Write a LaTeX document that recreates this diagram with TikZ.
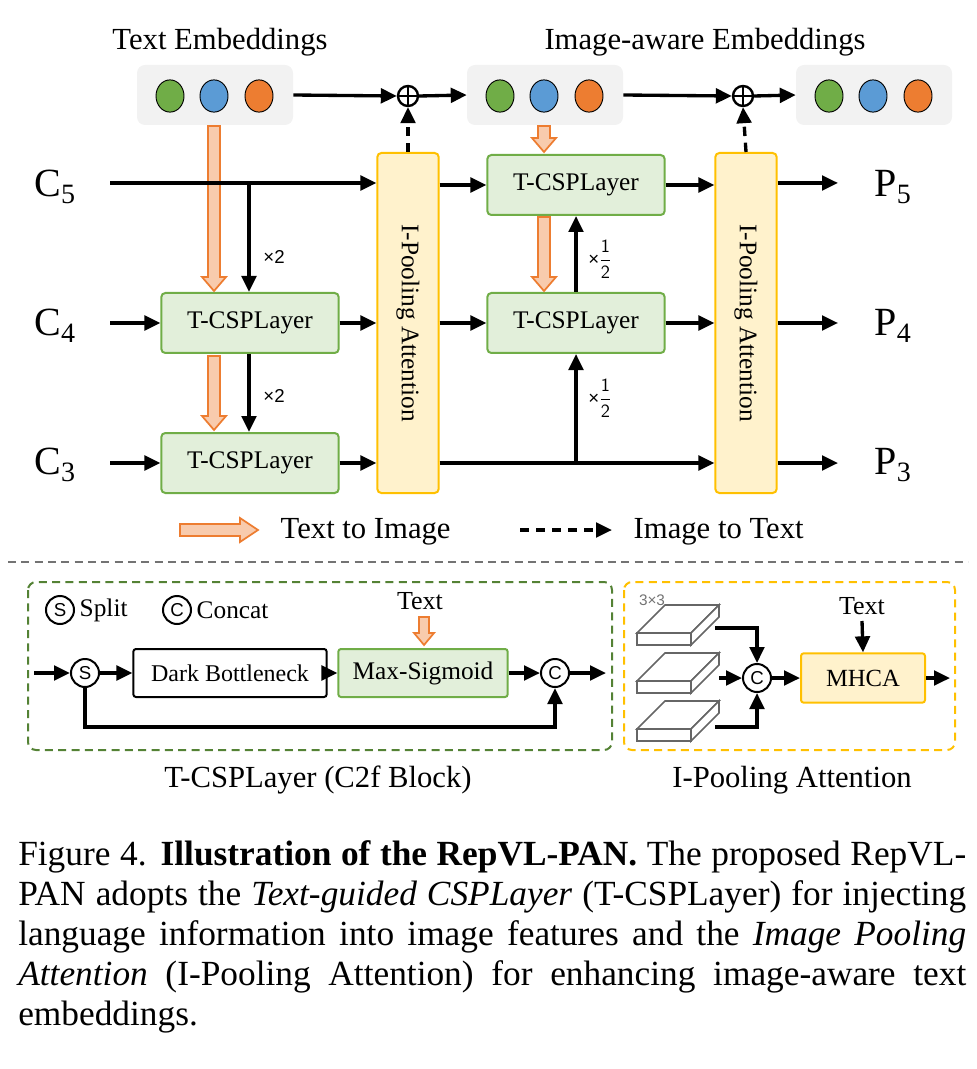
\documentclass[tikz,border=0pt]{standalone}
\usepackage{fontspec}
\setmainfont{Liberation Serif}
\newfontfamily\sansf{Liberation Sans}
\usetikzlibrary{arrows.meta}
\definecolor{embg}{HTML}{F2F2F2}
\definecolor{cgreen}{HTML}{70AD47}
\definecolor{cblue}{HTML}{5B9BD5}
\definecolor{corange}{HTML}{ED7D31}
\definecolor{tfill}{HTML}{E2EFDA}
\definecolor{tdraw}{HTML}{70AD47}
\definecolor{pfill}{HTML}{FFF2CC}
\definecolor{pdraw}{HTML}{FFC000}
\definecolor{afill}{HTML}{F8CBAD}
\definecolor{gdash}{HTML}{548235}
\newcommand\myvarr[4]{\draw[oarrst] ({#1-#4},#2) -- ({#1+#4},#2) -- ({#1+#4},{#3-2*#4-2}) -- ({#1+2*#4},{#3-2*#4-2}) -- (#1,#3) -- ({#1-2*#4},{#3-2*#4-2}) -- ({#1-#4},{#3-2*#4-2}) -- cycle;}
\newcommand\myhalf{{\sansf×}$\displaystyle\frac{\mathsf{1}}{\mathsf{2}}$}
\begin{document}
\begin{tikzpicture}[x=0.75pt,y=-0.75pt,
  ar/.style={line width=2.5pt,-{Triangle[length=12pt,width=11pt]}},
  dar/.style={ar,dash pattern=on 7pt off 5pt},
  emb/.style={fill=embg,draw=none,rounded corners=6pt,minimum width=117pt,minimum height=45pt},
  dot/.style={circle,draw=black,line width=0.7pt,minimum width=21pt,minimum height=0pt,inner sep=0pt,yscale=1.15},
  tcsp/.style={draw=tdraw,fill=tfill,line width=1.5pt,rounded corners=3pt,minimum width=133pt,minimum height=45pt,font=\fontsize{19}{19}\selectfont},
  ipool/.style={draw=pdraw,fill=pfill,line width=1.5pt,rounded corners=3pt,minimum width=46pt,minimum height=255pt},
  oarrst/.style={draw=corange,fill=afill,line width=1.3pt,line join=miter},
  oplus/.style={circle,draw,line width=1.8pt,minimum size=15pt,inner sep=0pt},
  lbl/.style={font=\fontsize{23}{23}\selectfont},
  big/.style={font=\fontsize{30}{30}\selectfont},
  mul/.style={font=\sansf\fontsize{14}{14}\selectfont},
  sc/.style={circle,draw,line width=1.5pt,minimum size=21pt,inner sep=0pt,font=\sansf\fontsize{14}{14}\selectfont},
  slab/.style={draw=black!60,line width=1.3pt,fill=white}]
\useasboundingbox (0,0) rectangle (976,1069);
% embeddings
\node[lbl] at (220,42) {Text Embeddings};
\node[lbl] at (705,42) {Image-aware Embeddings};
\node[emb] (e1) at (215,95) {};
\node[emb] (e2) at (545,95) {};
\node[emb] (e3) at (874,95) {};
\foreach \e/\x in {1/170,2/500,3/829}{
  \node[dot,fill=cgreen] (g\e) at (\x,96) {};
  \node[dot,fill=cblue] (b\e) at (\x+44,96) {};
  \node[dot,fill=corange] (o\e) at (\x+89,96) {};}
\node[oplus] (p1) at (408,96) {};
\node[oplus] (p2) at (743,96) {};
\draw[line width=1.8pt] (p1.north)--(p1.south) (p1.west)--(p1.east);
\draw[line width=1.8pt] (p2.north)--(p2.south) (p2.west)--(p2.east);
\draw[ar] (e1.east) -- (p1.west);
\draw[ar] (p1.east) -- (e2.west);
\draw[ar] (e2.east) -- (p2.west);
\draw[ar] (p2.east) -- (e3.west);
% labels
\node[big] (c5) at (55,187) {C\textsubscript{5}};
\node[big] (c4) at (55,326) {C\textsubscript{4}};
\node[big] (c3) at (55,465) {C\textsubscript{3}};
\node[big] (q5) at (893,187) {P\textsubscript{5}};
\node[big] (q4) at (893,326) {P\textsubscript{4}};
\node[big] (q3) at (893,465) {P\textsubscript{3}};
% blocks
\node[ipool] (ip1) at (408,323) {};
\node[ipool] (ip2) at (746,323) {};
\node[rotate=-90,font=\fontsize{19}{19}\selectfont] at (408,323) {I-Pooling Attention};
\node[rotate=-90,font=\fontsize{19}{19}\selectfont] at (746,323) {I-Pooling Attention};
\node[tcsp] (t4) at (250,323) {T-CSPLayer};
\node[tcsp] (t3) at (250,463) {T-CSPLayer};
\node[tcsp] (m5) at (576,185) {T-CSPLayer};
\node[tcsp] (m4) at (576,323) {T-CSPLayer};
% orange arrows
\myvarr{214}{126}{291}{6}
\myvarr{214}{356}{430}{6}
\myvarr{544}{126}{152}{6}
\myvarr{544}{217}{291}{6}
% connectors
\coordinate (c5s) at (110,183);
\coordinate (c4s) at (110,323);
\coordinate (c3s) at (110,463);
\draw[ar] (c5s) -- (ip1.west |- c5s);
\draw[ar] (249,183) -- (t4.north -| 249,0);
\node[mul] at (274,257) {×2};
\draw[ar] (c4s) -- (t4.west);
\draw[ar] (t4.east) -- (ip1.west |- t4.east);
\draw[ar] (t4.south -| 249,0) -- (t3.north -| 249,0);
\node[mul] at (274,396) {×2};
\draw[ar] (c3s) -- (t3.west);
\draw[ar] (t3.east) -- (ip1.west |- t3.east);
\draw[ar] (ip1.east |- m5.west) -- (m5.west);
\draw[ar] (ip1.east |- m4.west) -- (m4.west);
\draw[ar] (ip1.east |- 0,463) -- (ip2.west |- 0,463);
\draw[ar] (576,463) -- (m4.south);
\draw[ar] (m4.north) -- (m5.south);
\node[mul,anchor=west,inner sep=0pt] at (588,259) {\myhalf};
\node[mul,anchor=west,inner sep=0pt] at (588,398) {\myhalf};
\draw[ar] (m5.east) -- (ip2.west |- m5.east);
\draw[ar] (m4.east) -- (ip2.west |- m4.east);
\coordinate (r5) at (838,183);
\coordinate (r4) at (838,323);
\coordinate (r3) at (838,463);
\draw[ar] (ip2.east |- r5) -- (r5);
\draw[ar] (ip2.east |- r4) -- (r4);
\draw[ar] (ip2.east |- r3) -- (r3);
\draw[dar] (ip1.north) -- (p1.south);
\draw[dar] (ip2.north) -- (p2.south);
% legend
\draw[oarrst] (180,524) -- (240,524) -- (240,518) -- (258,530) -- (240,542) -- (240,536) -- (180,536) -- cycle;
\node[lbl,anchor=west] at (276,532) {Text to Image};
\coordinate (lda) at (520,530); \coordinate (ldb) at (612,530);
\draw[dar] (lda) -- (ldb);
\node[lbl,anchor=west] at (629,532) {Image to Text};
\draw[black!55,line width=1.2pt,dash pattern=on 6pt off 4pt] (8,562) -- (968,562);
% bottom left
\draw[gdash,line width=1.5pt,dash pattern=on 6pt off 4pt,rounded corners=6pt] (28,582) rectangle (612,750);
\draw[pdraw,line width=1.5pt,dash pattern=on 6pt off 4pt,rounded corners=6pt] (624,582) rectangle (955,750);
\node[sc] (ls) at (60,610) {S};
\node[font=\fontsize{19}{19}\selectfont,anchor=west] at (75,610) {Split};
\node[sc] (lc) at (177,610) {C};
\node[font=\fontsize{19}{19}\selectfont,anchor=west] at (192,610) {Concat};
\node[sc] (s) at (85,673) {S};
\node[draw,line width=1.5pt,rounded corners=2pt,minimum width=145pt,minimum height=36pt,font=\fontsize{18}{18}\selectfont] (db) at (230,673) {Dark Bottleneck};
\node[draw=tdraw,fill=tfill,line width=1.5pt,rounded corners=2pt,minimum width=127pt,minimum height=36pt,font=\fontsize{19}{19}\selectfont] (ms) at (423,673) {Max-Sigmoid};
\node[sc] (c) at (555,673) {C};
\coordinate (in1) at (34,673); \coordinate (out1) at (606,673);
\draw[ar] (in1) -- (s);
\draw[ar] (s) -- (db);
\draw[ar] (db) -- (ms);
\draw[ar] (ms) -- (c);
\draw[ar] (c) -- (out1);
\draw[ar] (s.south) -- (85,727) -- (555,727) -- (c.south);
\node[font=\fontsize{19.5}{19.5}\selectfont] at (420,601) {Text};
\myvarr{424}{617}{645}{5}
\node[font=\fontsize{23}{23}\selectfont] at (318,780) {T-CSPLayer (C2f Block)};
% bottom right
\foreach \y in {645,693,741}{
  \draw[slab] (637,\y) rectangle (691,\y-12);
  \draw[slab] (637,\y-12) -- (665,\y-40) -- (719,\y-40) -- (691,\y-12) -- cycle;
  \draw[slab] (691,\y-12) -- (719,\y-40) -- (719,\y-28) -- (691,\y) -- cycle;}
\node[font=\sansf\fontsize{11.5}{11.5}\selectfont,text=black!55] at (652,600) {3×3};
\node[sc] (cc) at (757,678) {C};
\node[draw=pdraw,fill=pfill,line width=1.5pt,rounded corners=2pt,minimum width=93pt,minimum height=37pt,font=\fontsize{18.5}{18.5}\selectfont] (mh) at (863,678) {MHCA};
\draw[ar] (715,628) -- (757,628) -- (cc.north);
\draw[ar] (719,678) -- (cc.west);
\draw[ar] (715,727) -- (757,727) -- (cc.south);
\draw[ar] (cc) -- (mh);
\coordinate (out2) at (950,678);
\draw[ar] (mh) -- (out2);
\node[font=\fontsize{19.5}{19.5}\selectfont] (tx) at (862,606) {Text};
\draw[ar] (862,621) -- (mh.north);
\node[font=\fontsize{23}{23}\selectfont] at (792,780) {I-Pooling Attention};
% caption
\node[anchor=north west,text width=711pt,align=justify,inner sep=0pt,font=\fontsize{26.5}{30}\selectfont] at (18,840) {\hyphenpenalty=10000 Figure 4. \textbf{Illustration of the RepVL-PAN.} The proposed RepVL-\linebreak PAN adopts the \textit{Text-guided CSPLayer} (T-CSPLayer) for injecting\linebreak language information into image features and the \textit{Image Pooling}\linebreak \textit{Attention} (I-Pooling Attention) for enhancing image-aware text\linebreak embeddings.};
\end{tikzpicture}
\end{document}
